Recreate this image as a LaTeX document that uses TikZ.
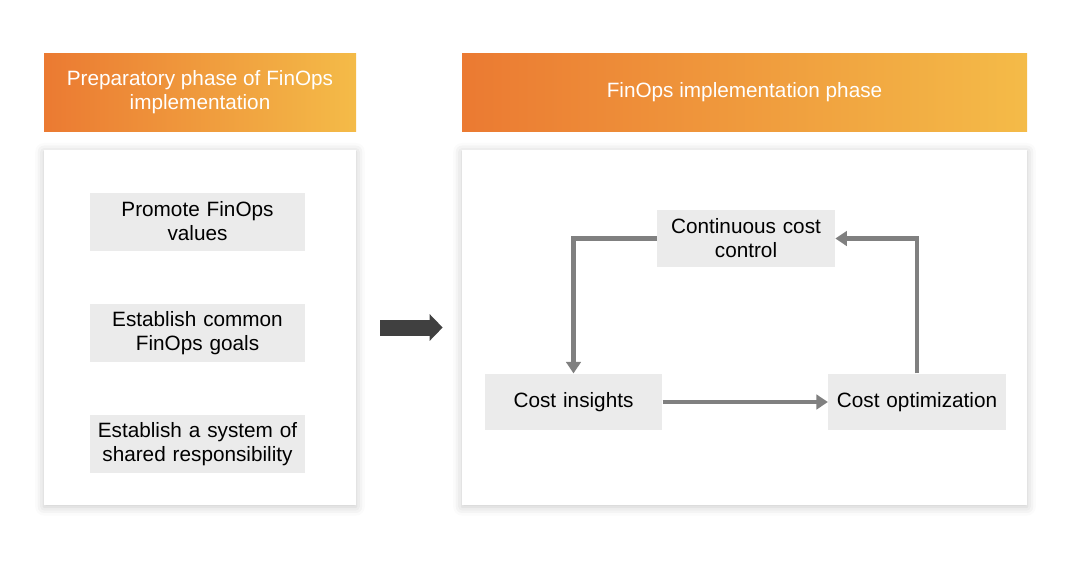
\documentclass[tikz,border=0pt]{standalone}
\usepackage{fontspec}
\setmainfont{Liberation Sans}
\usepackage{tikz}
\usetikzlibrary{arrows.meta,shadows.blur}
\usepackage{xcolor}
\definecolor{FOLeft}{RGB}{235,122,50}
\definecolor{FORight}{RGB}{244,187,72}
\definecolor{BoxGray}{RGB}{235,235,235}
\definecolor{ArrGray}{RGB}{128,128,128}
\definecolor{DarkArr}{RGB}{64,64,64}

\begin{document}
\begin{tikzpicture}[
  txt/.style={font=\fontsize{11.8}{13.6}\selectfont},
  head/.style={txt,text=white,left color=FOLeft,right color=FORight,draw=none,
               minimum height=1.56cm,align=center,inner sep=0pt},
  panel/.style={fill=white,draw=none,minimum height=7.1cm,
                blur shadow={shadow xshift=0pt,shadow yshift=-1pt,shadow blur radius=5pt,shadow opacity=22}},
  item/.style={txt,fill=BoxGray,draw=none,minimum height=1.16cm,text width=4.1cm,
               inner sep=0.1cm,align=center},
  cyc/.style={txt,fill=BoxGray,draw=none,minimum height=1.13cm,text width=3.35cm,
              inner sep=0.1cm,align=center},
  arr/.style={-{Triangle[length=0.23cm,width=0.29cm]},line width=2.3pt,ArrGray},
  bigarr/.style={-{Triangle[length=0.26cm,width=0.52cm]},line width=0.32cm,DarkArr}
]
\useasboundingbox (0,0) rectangle (21.6,-11.4);
% headers
\node[head,minimum width=6.24cm] (prephead) at (4.0,-1.84) {Preparatory phase of FinOps\\implementation};
\node[head,minimum width=11.3cm] (implhead) at (14.89,-1.84) {FinOps implementation phase};
% panels
\node[panel,minimum width=6.24cm] (preppanel) at (4.0,-6.55) {};
\node[panel,minimum width=11.3cm] (implpanel) at (14.89,-6.55) {};
% preparatory steps
\node[item] (values) at (3.95,-4.43) {Promote FinOps\\values};
\node[item] (goals) at (3.95,-6.66) {Establish common\\FinOps goals};
\node[item] (resp) at (3.95,-8.88) {Establish a system of\\shared responsibility};
% cycle
\node[cyc,text width=3.36cm] (control) at (14.92,-4.77) {Continuous cost\\control};
\node[cyc] (insights) at (11.47,-8.04) {Cost insights};
\node[cyc] (optim) at (18.34,-8.04) {Cost optimization};
\draw[arr] (control.west) -| (insights.north);
\draw[arr] (insights) -- (optim);
\draw[arr] (optim.north) |- (control.east);
% phase arrow
\draw[bigarr,shorten <=0.48cm,shorten >=0.38cm] (preppanel.east) -- (implpanel.west);
\end{tikzpicture}
\end{document}
